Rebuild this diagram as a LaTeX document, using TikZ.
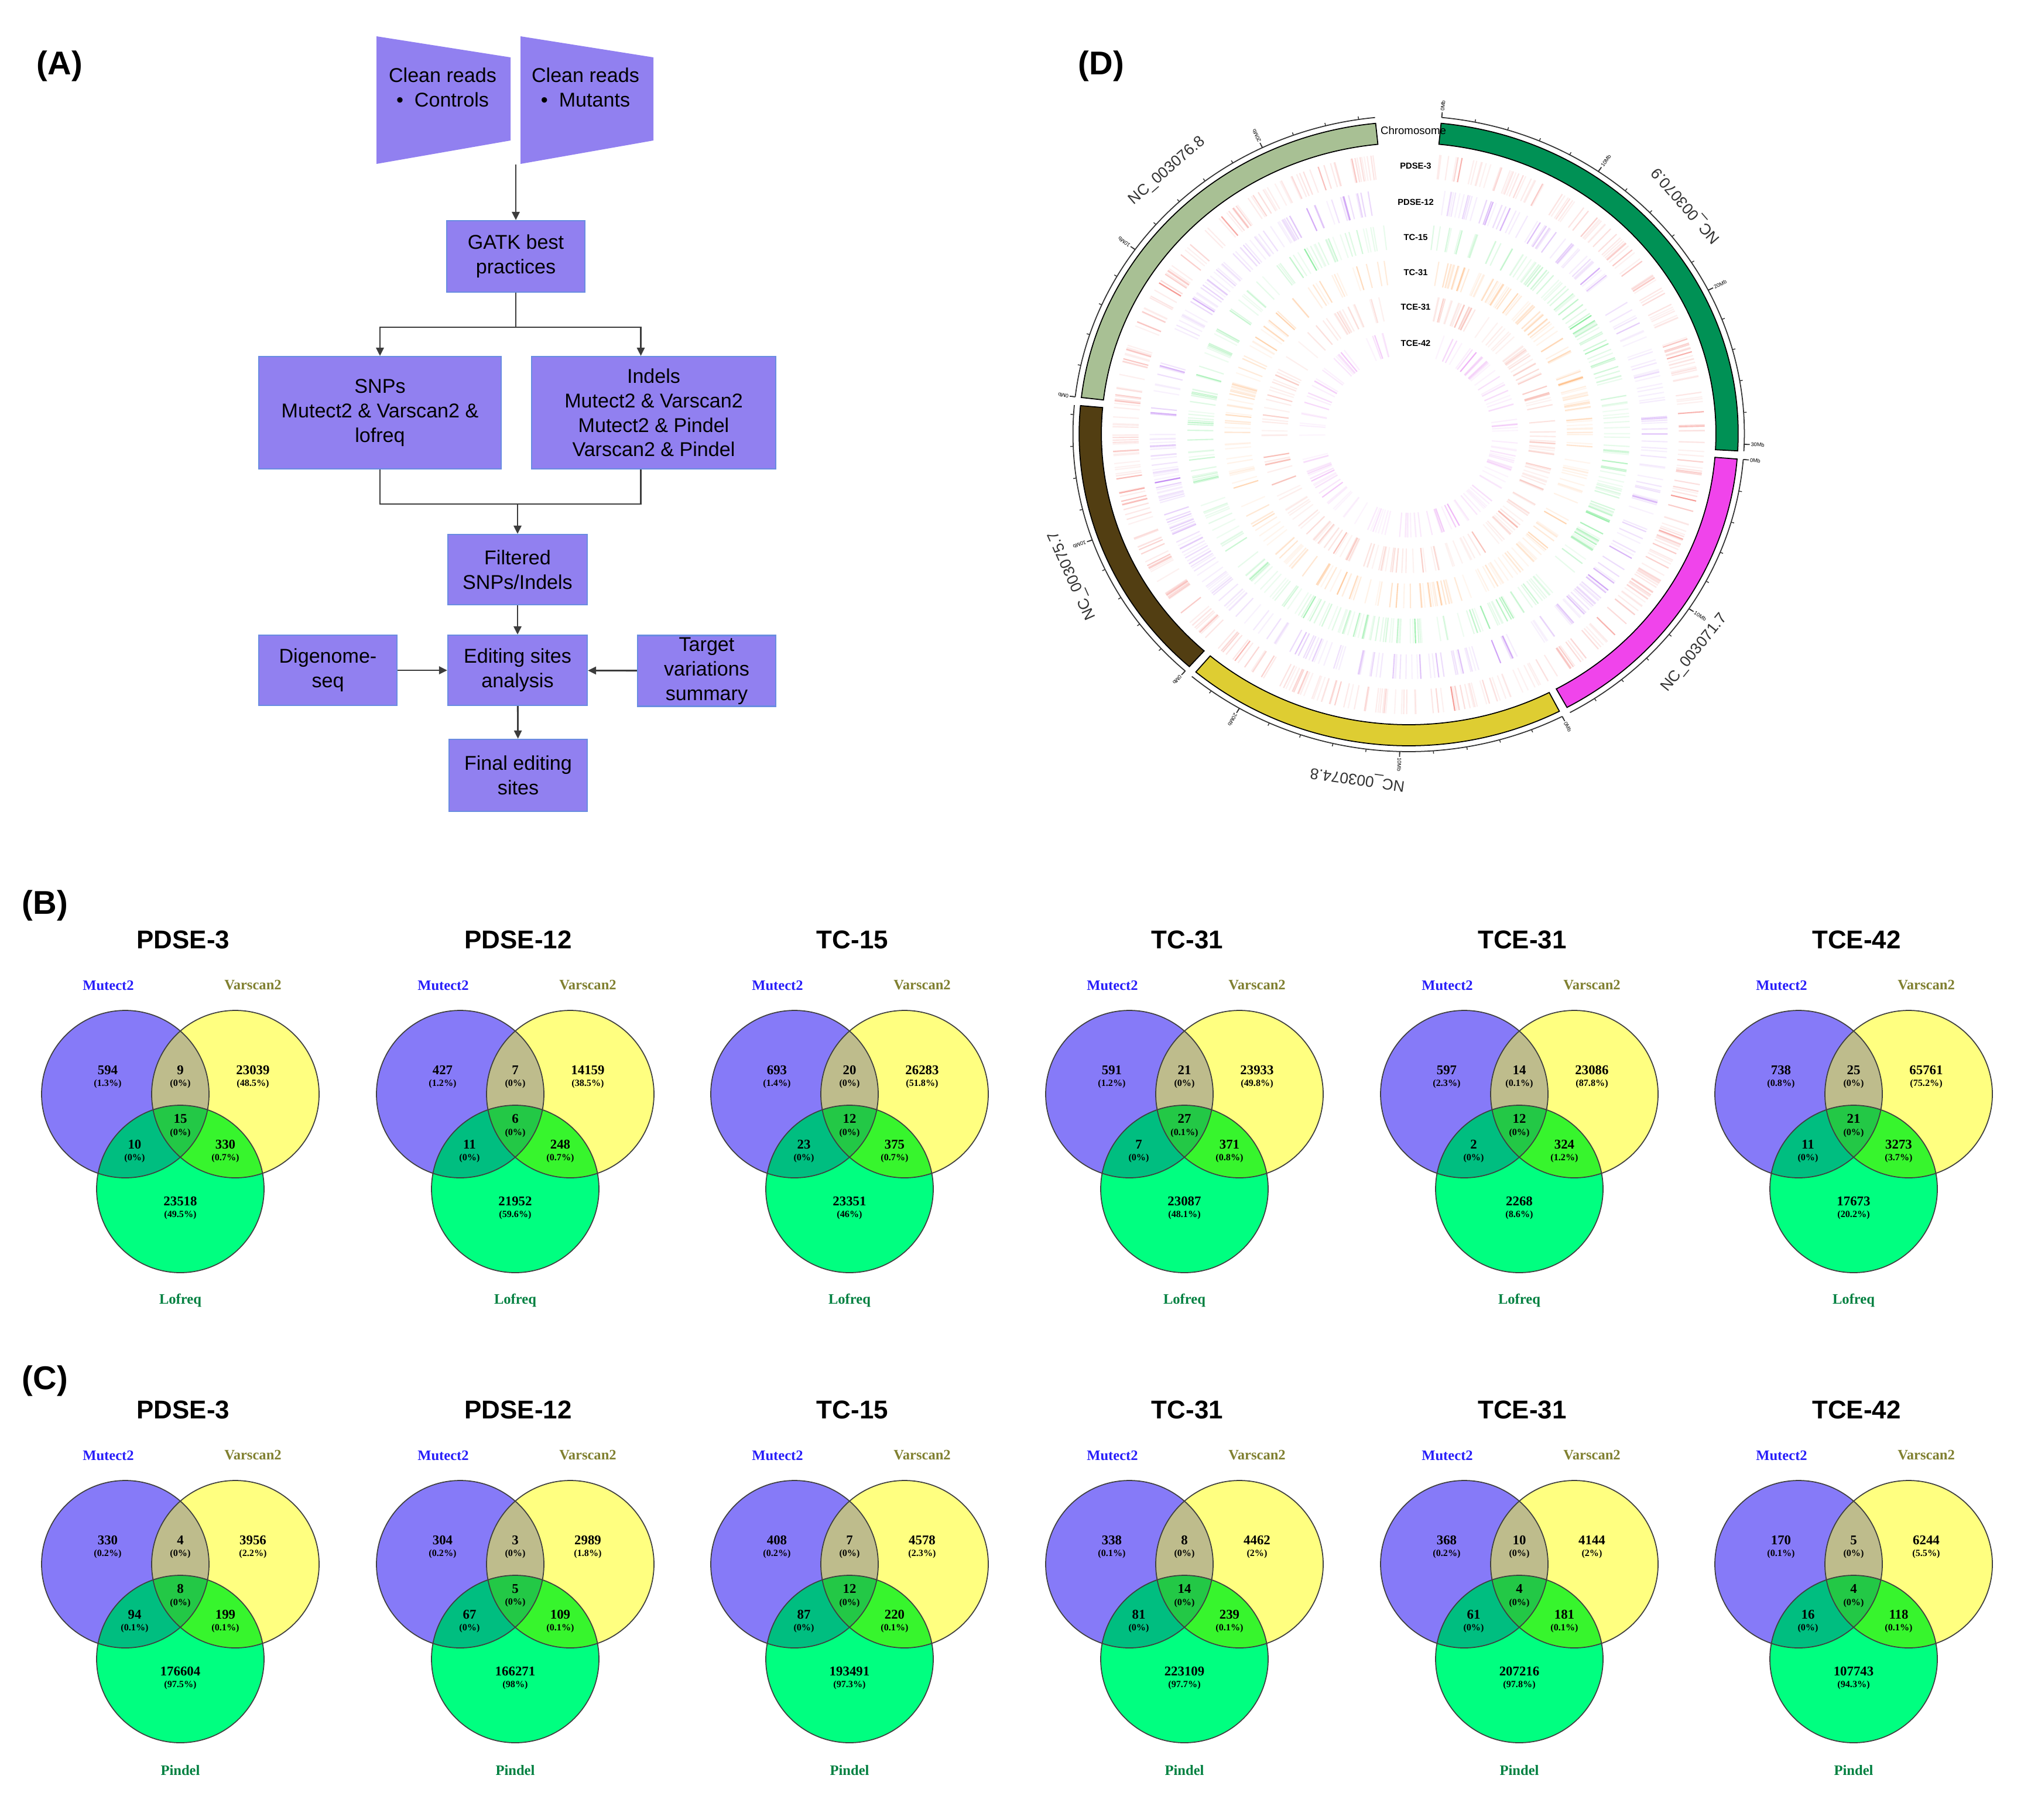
\documentclass[tikz,border=0pt]{standalone}
\usepackage{fontspec}
\setmainfont{Liberation Sans}
\newfontfamily\vennfont{Liberation Serif}
\usetikzlibrary{positioning,arrows.meta}

% flowchart colours
\definecolor{boxfill}{RGB}{145,128,240}
\definecolor{boxedge}{RGB}{105,140,225}
\definecolor{arrowgray}{RGB}{60,60,60}
% Venn colours
\definecolor{vP}{RGB}{134,122,248}
\definecolor{vY}{RGB}{255,255,128}
\definecolor{vG}{RGB}{0,255,128}
\definecolor{vPY}{RGB}{190,188,140}
\definecolor{vPG}{RGB}{0,190,128}
\definecolor{vYG}{RGB}{55,245,45}
\definecolor{vPYG}{RGB}{35,200,70}
\definecolor{mutcol}{RGB}{40,30,250}
\definecolor{varcol}{RGB}{128,128,48}
\definecolor{thirdcol}{RGB}{0,128,64}
% circos colours
\definecolor{chrA}{RGB}{0,145,85}
\definecolor{chrB}{RGB}{240,68,235}
\definecolor{chrC}{RGB}{222,205,50}
\definecolor{chrD}{RGB}{82,62,18}
\definecolor{chrE}{RGB}{168,192,148}
\definecolor{trkA}{RGB}{240,70,60}
\definecolor{trkB}{RGB}{165,80,240}
\definecolor{trkC}{RGB}{30,220,70}
\definecolor{trkD}{RGB}{255,140,40}
\definecolor{trkE}{RGB}{240,90,70}
\definecolor{trkF}{RGB}{225,110,240}

\newcommand{\vrad}{1.43}
\newcommand{\pctfont}{\fontsize{4.6}{5}\selectfont}

% one Venn diagram: name, x, y, title, third set, region counts
\newcommand{\venn}[6]{%
  \begin{scope}[shift={(#2,#3)}]
    \coordinate (#1-P) at (-0.94,0.54);
    \coordinate (#1-Y) at (0.94,0.54);
    \coordinate (#1-G) at (0,-1.08);
    \fill[vP] (#1-P) circle (\vrad);
    \fill[vY] (#1-Y) circle (\vrad);
    \fill[vG] (#1-G) circle (\vrad);
    \begin{scope}
      \clip (#1-Y) circle (\vrad);
      \fill[vYG] (#1-G) circle (\vrad);
    \end{scope}
    \begin{scope}
      \clip (#1-P) circle (\vrad);
      \fill[vPY] (#1-Y) circle (\vrad);
      \fill[vPG] (#1-G) circle (\vrad);
      \clip (#1-Y) circle (\vrad);
      \fill[vPYG] (#1-G) circle (\vrad);
    \end{scope}
    \draw[vedge] (#1-P) circle (\vrad) (#1-Y) circle (\vrad) (#1-G) circle (\vrad);
    \node[vtitle] (#1-title) at (0.05,3.18) {#4};
    \node[setlab, mutcol] (#1-mut) at (-1.23,2.40) {Mutect2};
    \node[setlab, varcol] (#1-var) at (1.24,2.40) {Varscan2};
    \node[setlab, thirdcol] (#1-third) at (0,-2.98) {#5};
    % region centres
    \coordinate (#1-a) at (-1.24,0.835);
    \coordinate (#1-ab) at (0,0.835);
    \coordinate (#1-b) at (1.24,0.835);
    \coordinate (#1-abc) at (0,0);
    \coordinate (#1-ac) at (-0.78,-0.435);
    \coordinate (#1-bc) at (0.77,-0.435);
    \coordinate (#1-c) at (0,-1.405);
    \foreach \vreg/\vnum/\vpct in {#6}
      \node[cnt] (#1-\vreg-n) at (#1-\vreg) {\vnum\\{\pctfont(\vpct\%)}};
  \end{scope}}

\begin{document}
\begin{tikzpicture}[
    box/.style={draw=boxedge, fill=boxfill, line width=0.6pt, align=center, inner sep=0pt,
      font=\fontsize{9.7}{11.9}\selectfont},
    boxtext/.style={align=center, inner sep=0pt, font=\fontsize{9.7}{11.9}\selectfont},
    arr/.style={draw=arrowgray, line width=0.8pt, -{Triangle[length=1.4mm,width=1.3mm]}},
    link/.style={draw=arrowgray, line width=0.8pt},
    panel/.style={font=\bfseries\fontsize{16}{18}\selectfont},
    vtitle/.style={font=\bfseries\fontsize{12.5}{14}\selectfont},
    setlab/.style={inner sep=0pt, font=\vennfont\bfseries\fontsize{7}{8}\selectfont},
    cnt/.style={align=center, inner sep=0pt, font=\vennfont\bfseries\fontsize{6.5}{5.8}\selectfont},
    vedge/.style={draw=black!75, line width=0.5pt},
    chrlab/.style={inner sep=0pt, text=black!80, font=\fontsize{7.5}{9}\selectfont},
    ticklab/.style={inner sep=0.4pt, font=\fontsize{2.6}{3}\selectfont},
    trkname/.style={inner sep=0pt, font=\bfseries\fontsize{4.2}{5}\selectfont},
    trkchr/.style={inner sep=0pt, font=\fontsize{5.3}{6}\selectfont}]
\path[use as bounding box, fill=white] (0,0) rectangle (34.69,-31.08);

% (A) pipeline
\node[panel] (labA) at (1.02,-1.13) {(A)};
\fill[boxfill] (6.43,-0.62) -- (8.72,-0.98) -- (8.72,-2.40) -- (6.43,-2.80) -- cycle;
\fill[boxfill] (8.89,-0.62) -- (11.16,-0.98) -- (11.16,-2.40) -- (8.89,-2.80) -- cycle;
\node[boxtext] (ctl) at (7.56,-1.49) {Clean reads\\\textbullet\ \ Controls};
\node[boxtext] (mut) at (10.00,-1.49) {Clean reads\\\textbullet\ \ Mutants};
\coordinate (reads) at (8.81,-2.81);

\node[box, minimum width=2.36cm, minimum height=1.22cm] (gatk) at (8.81,-4.38) {GATK best\\practices};
\node[box, minimum width=4.14cm, minimum height=1.92cm] (snp) at (6.49,-7.05) {SNPs\\Mutect2 \& Varscan2 \&\\lofreq};
\node[box, minimum width=4.17cm, minimum height=1.92cm] (indel) at (11.165,-7.05) {Indels\\Mutect2 \& Varscan2\\Mutect2 \& Pindel\\Varscan2 \& Pindel};
\node[box, minimum width=2.38cm, minimum height=1.20cm] (filt) at (8.84,-9.73) {Filtered\\SNPs/Indels};
\node[box, minimum width=2.38cm, minimum height=1.20cm] (edit) at (8.84,-11.45) {Editing sites\\analysis};
\node[box, minimum width=2.36cm, minimum height=1.20cm] (dig) at (5.60,-11.45) {Digenome-\\seq};
\node[box, minimum width=2.36cm, minimum height=1.21cm] (targ) at (12.07,-11.46) {Target\\variations\\summary};
\node[box, minimum width=2.36cm, minimum height=1.23cm] (final) at (8.85,-13.245) {Final editing\\sites};

\draw[arr] (reads) -- (gatk);
\draw[link] (gatk.south) -- ++(0,-0.59) coordinate (split);
\draw[arr] (split) -| (snp.north);
\draw[arr] (split) -| ([xshift=-2.2mm]indel.north);
\draw[link] (snp.south) -- ++(0,-0.59) coordinate (mleft) -| ([xshift=-2.2mm]indel.south);
\coordinate (merge) at (filt.north |- mleft);
\draw[arr] (merge) -- (filt);
\draw[arr] (filt) -- (edit);
\draw[arr] (dig) -- (edit);
\draw[arr] (targ) -- (edit);
\draw[arr] (edit) -- (final);

% (B) SNP callers
\node[panel] (labB) at (0.77,-15.47) {(B)};
\venn{b1}{3.08}{-19.23}{PDSE-3}{Lofreq}{a/594/1.3, ab/9/0, b/23039/48.5, abc/15/0, ac/10/0, bc/330/0.7, c/23518/49.5}
\venn{b2}{8.80}{-19.23}{PDSE-12}{Lofreq}{a/427/1.2, ab/7/0, b/14159/38.5, abc/6/0, ac/11/0, bc/248/0.7, c/21952/59.6}
\venn{b3}{14.51}{-19.23}{TC-15}{Lofreq}{a/693/1.4, ab/20/0, b/26283/51.8, abc/12/0, ac/23/0, bc/375/0.7, c/23351/46}
\venn{b4}{20.23}{-19.23}{TC-31}{Lofreq}{a/591/1.2, ab/21/0, b/23933/49.8, abc/27/0.1, ac/7/0, bc/371/0.8, c/23087/48.1}
\venn{b5}{25.95}{-19.23}{TCE-31}{Lofreq}{a/597/2.3, ab/14/0.1, b/23086/87.8, abc/12/0, ac/2/0, bc/324/1.2, c/2268/8.6}
\venn{b6}{31.66}{-19.23}{TCE-42}{Lofreq}{a/738/0.8, ab/25/0, b/65761/75.2, abc/21/0, ac/11/0, bc/3273/3.7, c/17673/20.2}

% (C) indel callers
\node[panel] (labC) at (0.77,-23.59) {(C)};
\venn{c1}{3.08}{-27.26}{PDSE-3}{Pindel}{a/330/0.2, ab/4/0, b/3956/2.2, abc/8/0, ac/94/0.1, bc/199/0.1, c/176604/97.5}
\venn{c2}{8.80}{-27.26}{PDSE-12}{Pindel}{a/304/0.2, ab/3/0, b/2989/1.8, abc/5/0, ac/67/0, bc/109/0.1, c/166271/98}
\venn{c3}{14.51}{-27.26}{TC-15}{Pindel}{a/408/0.2, ab/7/0, b/4578/2.3, abc/12/0, ac/87/0, bc/220/0.1, c/193491/97.3}
\venn{c4}{20.23}{-27.26}{TC-31}{Pindel}{a/338/0.1, ab/8/0, b/4462/2, abc/14/0, ac/81/0, bc/239/0.1, c/223109/97.7}
\venn{c5}{25.95}{-27.26}{TCE-31}{Pindel}{a/368/0.2, ab/10/0, b/4144/2, abc/4/0, ac/61/0, bc/181/0.1, c/207216/97.8}
\venn{c6}{31.66}{-27.26}{TCE-42}{Pindel}{a/170/0.1, ab/5/0, b/6244/5.5, abc/4/0, ac/16/0, bc/118/0.1, c/107743/94.3}

% (D) circos plot
\node[panel] (labD) at (18.81,-1.13) {(D)};
\begin{scope}[shift={(24.06,-7.41)}, xscale=1.056]
  \pgfmathsetseed{11}
  % variant tracks
  \foreach \tr/\tcol in {4.58/trkA, 3.98/trkB, 3.37/trkC, 2.77/trkD, 2.17/trkE, 1.56/trkF} {
    \pgfmathsetmacro\tg{max(6,asin(0.36/\tr))}
    \pgfmathtruncatemacro\tcount{90*\tr}
    \pgfmathsetmacro\ri{\tr-0.21}
    \pgfmathsetmacro\ro{\tr+0.21}
    \foreach \i in {1,...,\tcount} {
      \pgfmathsetmacro\ang{90-\tg-(360-2*\tg)*rnd}
      \pgfmathsetmacro\op{0.07+0.5*rnd*rnd*rnd}
      \draw[\tcol, draw opacity=\op, line width=0.6pt] (\ang:\ri) -- (\ang:\ro);
    }
  }
  % chromosome bands with Mb scale
  \foreach \chs/\che/\chc/\chn/\chlt/\chlr/\chmaj/\chmin [count=\k] in
    {5.65/93.14/chrA/NC\_003070.9/49/131/30/30,
     94.64/151.28/chrB/NC\_003071.7/129/51/10/18,
     152.78/220.23/chrC/NC\_003074.8/188/172/20/22,
     221.73/275.18/chrD/NC\_003075.7/246/114/10/18,
     276.68/354.25/chrE/NC\_003076.8/319/41/20/26} {
    \pgfmathsetmacro\pa{90-\chs}
    \pgfmathsetmacro\pb{90-\che}
    \draw[black, line width=0.5pt, fill=\chc] (\pa:5.33) arc[start angle=\pa, end angle=\pb, radius=5.33]
      -- (\pb:4.97) arc[start angle=\pb, end angle=\pa, radius=4.97] -- cycle;
    \draw[black!80, line width=0.5pt] (\pa:5.43) arc[start angle=\pa, end angle=\pb, radius=5.43];
    \foreach \m in {0,2,...,\chmin} {
      \pgfmathsetmacro\ta{90-\chs-2.875*\m}
      \draw[black!80, line width=0.4pt] (\ta:5.43) -- (\ta:5.48);
    }
    \foreach \m in {0,10,...,\chmaj} {
      \pgfmathsetmacro\ta{90-\chs-2.875*\m}
      \draw[black!80, line width=0.5pt] (\ta:5.43) -- (\ta:5.52);
      \node[ticklab, rotate=\ta, anchor=west] (tk-\k-\m) at (\ta:5.52) {\m Mb};
    }
    \pgfmathsetmacro\la{90-\chlt}
    \node[chrlab, rotate=\chlr] (chr-\k) at (\la:5.95) {\chn};
  }
\end{scope}
% track names
\node[trkchr] (tl-chr) at (24.14,-2.23) {Chromosome};
\foreach \tname/\ty in {PDSE-3/2.83, PDSE-12/3.45, TC-15/4.05, TC-31/4.65, TCE-31/5.24, TCE-42/5.86}
  \node[trkname] (tl-\tname) at (24.18,-\ty) {\tname};
\end{tikzpicture}
\end{document}
